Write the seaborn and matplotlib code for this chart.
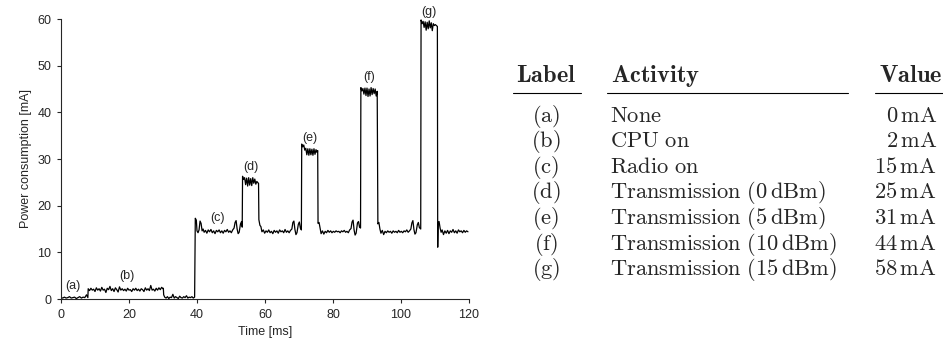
import seaborn as sns
import pandas as pd
import numpy as np
import matplotlib.pyplot as plt
from matplotlib.lines import Line2D

# Trace, one list of (time [ms], current [mA]) per phase
seg_a = [(0, 0.3), (0.5, 0.2), (1, 0.4), (1.5, 0.2), (2, 0.3), (2.5, 0.5), (3, 0.2), (3.5, 0.3),
         (4, 0.4), (4.5, 0.1), (5, 0.3), (5.5, 0.5), (6, 0.2), (6.5, 0.4), (7, 0.3), (7.5, 0.9), (7.9, 0.3)]
seg_b = [(8.0, 2.2), (8.4, 1.8), (8.8, 2.3), (9.2, 1.9), (9.6, 2.1), (10, 1.6), (10.4, 2.4), (10.8, 1.9),
         (11.2, 2.2), (11.6, 1.7), (12, 2.5), (12.4, 1.9), (12.8, 2.1), (13.2, 1.4), (13.6, 2.3), (14, 2.0),
         (14.4, 2.7), (14.8, 1.8), (15.2, 2.2), (15.6, 1.6), (16, 2.4), (16.4, 2.0), (16.8, 1.5), (17.2, 2.6),
         (17.6, 1.9), (18, 2.2), (18.4, 1.8), (18.8, 2.1), (19.2, 1.7), (19.6, 2.3), (20, 1.9), (20.4, 2.0),
         (20.8, 1.6), (21.2, 2.2), (21.6, 1.9), (22, 2.3), (22.4, 1.8), (22.8, 2.1), (23.2, 1.7), (23.6, 2.2),
         (24, 2.0), (24.4, 1.6), (24.8, 2.4), (25.2, 1.9), (25.6, 2.2), (26, 1.8), (26.4, 2.9), (26.8, 1.9),
         (27.2, 2.1), (27.6, 1.7), (28, 2.3), (28.4, 1.9), (28.8, 2.4), (29.2, 2.0), (29.6, 2.5), (30.0, 2.2),
         (30.1, 2.3)]
idle = [(30.2, 0.9), (30.5, 0.4), (30.9, 0.2), (31.3, 0.5), (31.7, 0.1), (32.1, 0.4), (32.5, 0.3), (32.9, 1.0),
        (33.3, 0.2), (33.7, 0.5), (34.1, 0.3), (34.5, 0.1), (34.9, 0.6), (35.3, 0.3), (35.7, 0.2), (36.1, 0.5),
        (36.5, 0.3), (36.9, 0.7), (37.3, 0.2), (37.7, 0.4), (38.1, 0.3), (38.5, 0.5), (38.9, 0.2), (39.3, 0.4)]
seg_c = [(39.5, 17.3), (39.8, 16.9), (40.0, 14.6), (40.3, 14.2), (40.6, 14.8), (40.9, 16.7), (41.2, 16.2),
         (41.5, 14.6), (41.8, 15.0), (42.1, 14.3), (42.5, 14.7), (42.9, 14.1), (43.3, 14.8), (43.7, 14.4),
         (44.1, 14.9), (44.5, 14.2), (44.9, 14.6), (45.3, 14.0), (45.7, 14.7), (46.1, 14.4), (46.5, 14.8),
         (46.9, 14.2), (47.3, 14.6), (47.7, 14.1), (48.1, 14.7), (48.5, 14.4), (48.9, 14.9), (49.3, 14.3),
         (49.7, 14.6), (50.1, 14.2), (50.5, 14.8), (50.9, 15.2), (51.2, 16.4), (51.5, 16.8), (51.8, 15.0),
         (52.1, 14.0), (52.4, 14.3), (52.8, 16.1), (53.1, 16.6), (53.3, 15.4)]
seg_d = [(53.4, 26.3), (53.7, 25.6), (54.0, 26.0), (54.3, 24.5), (54.6, 25.9), (54.9, 24.2), (55.2, 26.0),
         (55.5, 24.4), (55.8, 25.8), (56.1, 24.3), (56.4, 26.0), (56.7, 24.8), (57.0, 25.7), (57.3, 24.6),
         (57.6, 25.2), (57.9, 24.9), (58.1, 24.8)]
base_d = [(58.2, 17.0), (58.5, 15.8), (58.8, 15.5), (59.1, 14.4), (59.5, 14.8), (59.9, 14.1), (60.3, 14.6),
          (60.7, 14.3), (61.1, 14.8), (61.5, 14.2), (61.9, 14.5), (62.3, 14.0), (62.7, 14.7), (63.1, 14.3),
          (63.5, 14.6), (63.9, 14.1), (64.3, 14.8), (64.7, 14.4), (65.1, 14.6), (65.5, 14.2), (65.9, 14.9),
          (66.3, 14.3), (66.7, 14.6), (67.1, 14.2), (67.5, 14.7), (67.9, 15.0), (68.2, 16.4), (68.5, 16.7),
          (68.8, 14.9), (69.1, 13.8), (69.4, 14.2), (69.8, 16.0), (70.1, 16.5), (70.4, 15.2), (70.7, 14.8)]
seg_e = [(70.8, 33.2), (71.1, 32.6), (71.4, 33.0), (71.7, 31.9), (72.0, 32.3), (72.3, 30.9), (72.6, 32.2),
         (72.9, 30.8), (73.2, 32.2), (73.5, 30.9), (73.8, 32.1), (74.1, 30.8), (74.4, 32.2), (74.7, 31.0),
         (75.0, 32.0), (75.3, 31.4), (75.5, 31.8)]
base_e = [(75.6, 16.2), (75.9, 16.4), (76.2, 15.2), (76.5, 14.0), (76.9, 14.6), (77.3, 13.9), (77.7, 14.5),
          (78.1, 14.2), (78.5, 14.7), (78.9, 14.3), (79.3, 14.6), (79.7, 14.2), (80.1, 14.5), (80.5, 14.3),
          (80.9, 14.6), (81.3, 14.4), (81.7, 14.5), (82.1, 14.2), (82.5, 14.6), (82.9, 14.4), (83.3, 14.7),
          (83.7, 14.3), (84.1, 14.5), (84.5, 14.2), (84.9, 14.8), (85.3, 15.1), (85.6, 16.5), (85.9, 16.9),
          (86.2, 14.8), (86.5, 13.7), (86.8, 14.1), (87.2, 16.3), (87.5, 16.6), (87.8, 15.4), (88.1, 15.2)]
seg_f = [(88.2, 45.3), (88.5, 44.6), (88.8, 45.1), (89.1, 43.9), (89.4, 45.2), (89.7, 43.6), (90.0, 45.2),
         (90.3, 43.4), (90.6, 45.0), (90.9, 43.5), (91.2, 45.3), (91.5, 43.8), (91.8, 45.1), (92.1, 44.0),
         (92.4, 45.0), (92.7, 43.5), (93.0, 44.5)]
base_f = [(93.2, 16.1), (93.5, 16.4), (93.8, 15.0), (94.1, 14.1), (94.5, 14.7), (94.9, 13.8), (95.3, 14.5),
          (95.7, 14.2), (96.1, 14.6), (96.5, 14.3), (96.9, 14.5), (97.3, 14.1), (97.7, 14.6), (98.1, 14.3),
          (98.5, 14.5), (98.9, 14.2), (99.3, 14.7), (99.7, 14.3), (100.1, 14.5), (100.5, 14.2), (100.9, 14.6),
          (101.3, 14.4), (101.7, 14.8), (102.1, 14.3), (102.5, 14.6), (102.9, 15.0), (103.2, 16.3), (103.5, 16.8),
          (103.8, 14.9), (104.1, 13.9), (104.4, 14.2), (104.8, 15.9), (105.1, 16.4), (105.4, 15.3), (105.8, 15.0)]
seg_g = [(105.9, 59.8), (106.2, 59.0), (106.5, 59.5), (106.8, 58.2), (107.1, 59.4), (107.4, 57.6), (107.7, 59.3),
         (108.0, 57.9), (108.3, 59.6), (108.6, 58.1), (108.9, 59.2), (109.2, 57.5), (109.5, 59.0), (109.8, 58.6),
         (110.1, 58.8), (110.4, 58.6), (110.7, 58.4)]
base_g = [(110.8, 11.1), (110.9, 16.3), (111.2, 16.6), (111.5, 15.2), (111.8, 14.3), (112.1, 14.8), (112.5, 13.8),
          (112.9, 14.6), (113.3, 14.1), (113.7, 14.7), (114.1, 14.0), (114.5, 14.6), (114.9, 14.3), (115.3, 14.9),
          (115.7, 14.2), (116.1, 14.6), (116.5, 14.1), (116.9, 14.8), (117.3, 14.4), (117.7, 14.6), (118.1, 14.2),
          (118.5, 14.7), (118.9, 14.3), (119.3, 14.6), (119.7, 14.4)]

# Phase labels on the plot: text, time, height
phase_labels = ['(a)', '(b)', '(c)', '(d)', '(e)', '(f)', '(g)']
label_time = [3.5, 19.4, 46.1, 55.8, 73.2, 90.7, 108.3]
label_height = [2.8, 4.9, 17.4, 28.2, 34.6, 47.6, 61.4]

# Table contents
activities = ['None', 'CPU on', 'Radio on', 'Transmission (0 dBm)', 'Transmission (5 dBm)',
              'Transmission (10 dBm)', 'Transmission (15 dBm)']
values_ma = [0, 2, 15, 25, 31, 44, 58]

segments = [seg_a, seg_b, idle, seg_c, seg_d, base_d, seg_e, base_e, seg_f, base_f, seg_g, base_g]
df = pd.DataFrame([p for s in segments for p in s], columns=['time', 'current'])

sns.set_style('ticks')
plt.rcParams['font.family'] = ['Liberation Sans', 'DejaVu Sans']
plt.rcParams['mathtext.fontset'] = 'cm'

W, H = 943, 347
fig = plt.figure(figsize=(W / 100, H / 100), dpi=100)
ax = fig.add_axes([61 / W, 1 - 299 / H, 408 / W, 280 / H])

sns.lineplot(data=df, x='time', y='current', sort=False, estimator=None,
             color='black', linewidth=0.9, ax=ax)

for lab, t, h in zip(phase_labels, label_time, label_height):
    ax.text(t, h, lab, ha='center', va='center', fontsize=9, clip_on=False)

ax.set_xlim(0, 120)
ax.set_ylim(0, 60)
ax.set_xticks(range(0, 121, 20))
ax.set_yticks(range(0, 61, 10))
ax.tick_params(labelsize=9, length=3, width=0.8, pad=4)
ax.set_xlabel('Time [ms]', fontsize=9)
ax.set_ylabel('Power consumption [mA]', fontsize=9)
sns.despine(ax=ax)
for sp in ax.spines.values():
    sp.set_linewidth(0.8)


# Table drawn with figure text, positions in pixels
def fx(px):
    return px / W


def fy(py):
    return 1 - py / H


tsize = 16.2
hsize = 17.6
fig.text(fx(546), fy(82), r'$\mathbf{Label}$', ha='center', va='baseline', fontsize=hsize)
fig.text(fx(611), fy(82), r'$\mathbf{Activity}$', ha='left', va='baseline', fontsize=hsize)
fig.text(fx(942), fy(82), r'$\mathbf{Value}$', ha='right', va='baseline', fontsize=hsize)
for x0, x1 in [(513, 581), (607, 848), (875, 943)]:
    fig.add_artist(Line2D([fx(x0), fx(x1)], [fy(93), fy(93)], transform=fig.transFigure,
                          color='black', linewidth=0.8))

for i, (lab, act, val) in enumerate(zip(phase_labels, activities, values_ma)):
    yb = fy(121.5 + 25.6 * i)
    act_tex = act.replace(' dBm', r'\,dBm').replace(' ', r'\ ')
    fig.text(fx(546), yb, r'$\mathrm{' + lab + '}$', ha='center', va='baseline', fontsize=tsize)
    fig.text(fx(610), yb, r'$\mathrm{' + act_tex + '}$', ha='left', va='baseline', fontsize=tsize)
    fig.text(fx(937), yb, r'$' + str(val) + r'\,\mathrm{mA}$', ha='right', va='baseline', fontsize=tsize)

fig.savefig('out.png', dpi=100)
